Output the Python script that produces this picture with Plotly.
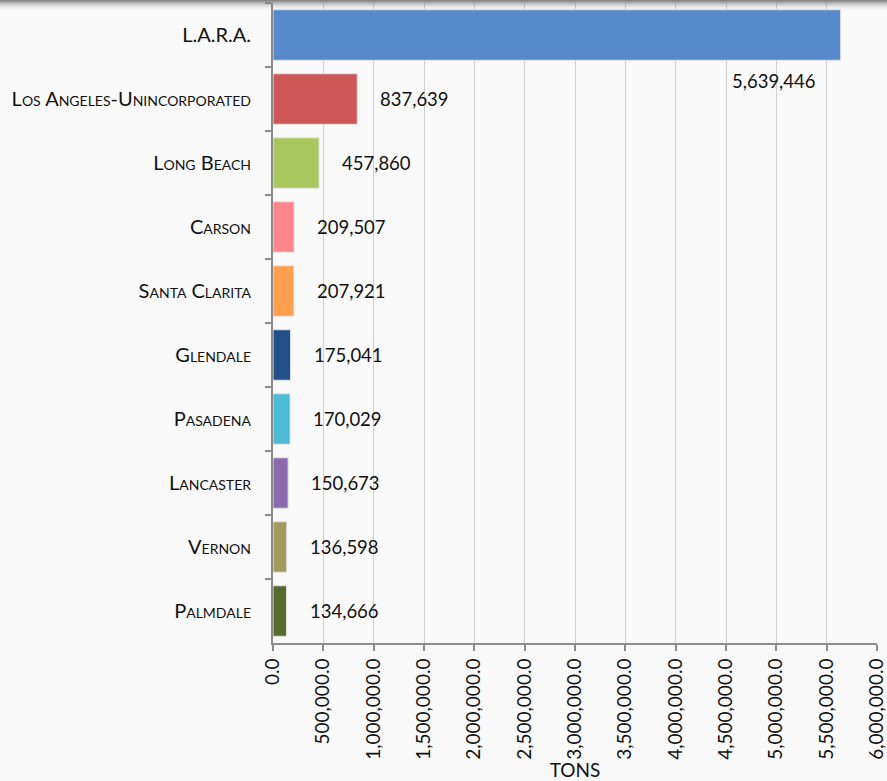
import plotly.graph_objects as go

categories = ["L.A.R.A.", "Los Angeles-Unincorporated", "Long Beach", "Carson", "Santa Clarita",
              "Glendale", "Pasadena", "Lancaster", "Vernon", "Palmdale"]
tons = [5639446, 837639, 457860, 209507, 207921, 175041, 170029, 150673, 136598, 134666]
colors = ["#5689cb", "#cd5757", "#a8c75e", "#ff868c", "#ffa04f", "#234f88", "#4dbbd6",
          "#8a6bb0", "#a29a5e", "#576b2e"]
x_ticks = list(range(0, 6000001, 500000))

W, H = 887, 781
ML, MR, MT, MB = 273, 10, 3, 138

fig = go.Figure()
fig.add_trace(go.Bar(
    y=categories, x=tons, orientation="h",
    marker=dict(color=colors, line=dict(color="#e6e6e6", width=1)),
    width=0.79, hoverinfo="x+y",
))

annotations = []
for i, (c, v) in enumerate(zip(categories, tons)):
    label = f"{v:,}"
    if i == 0:
        annotations.append(dict(x=v, y=c, text=label, showarrow=False, xanchor="right",
                                xshift=-23, yshift=-46,
                                font=dict(family="Lato, sans-serif", size=18.5, color="#111")))
    else:
        annotations.append(dict(x=v, y=c, text=label, showarrow=False, xanchor="left",
                                xshift=21,
                                font=dict(family="Lato, sans-serif", size=18.5, color="#111")))

shapes = []
plot_h = H - MT - MB
top = 1 + MT / plot_h
shade = [("#808080", 0.95), ("#808080", 0.8), ("#808080", 0.65), ("#808080", 0.5),
         ("#808080", 0.38), ("#808080", 0.27), ("#808080", 0.18), ("#808080", 0.11),
         ("#808080", 0.06), ("#808080", 0.03)]
for k, (col, op) in enumerate(shade):
    shapes.append(dict(type="rect", xref="paper", yref="paper", x0=-1, x1=2,
                       ysizemode="pixel", yanchor=top, y0=-k, y1=-k - 1,
                       fillcolor=col, opacity=op, line=dict(width=0), layer="above"))

fig.update_layout(
    width=W, height=H,
    margin=dict(l=ML, r=MR, t=MT, b=MB, autoexpand=False),
    paper_bgcolor="#f9f9f9", plot_bgcolor="#f9f9f9",
    showlegend=False,
    annotations=annotations,
    shapes=shapes,
    bargap=0.2,
    xaxis=dict(
        range=[0, 6000000], tickvals=x_ticks, tickformat=",.1f", tickangle=-90,
        showgrid=True, gridcolor="#d0d0d0", gridwidth=1,
        showline=True, linecolor="#8c8c8c", linewidth=2,
        ticks="outside", ticklen=6, tickcolor="#8c8c8c", tickwidth=2,
        tickfont=dict(family="Lato, sans-serif", size=19, color="#111"),
        ticklabeloverflow="allow",
        title=dict(text="TONS", standoff=0,
                   font=dict(family="Lato, sans-serif", size=19, color="#111")),
        zeroline=False, fixedrange=True, automargin=False,
    ),
    yaxis=dict(
        range=[9.5, -0.5], type="category",
        showline=True, linecolor="#8c8c8c", linewidth=2,
        ticks="outside", tickson="boundaries", ticklen=6, tickcolor="#8c8c8c", tickwidth=2,
        tickfont=dict(family="Lato, sans-serif", size=20, color="#111", variant="small-caps"),
        ticklabelstandoff=16,
        showgrid=False, fixedrange=True, automargin=False,
    ),
)

fig.write_html(
    "out.html",
    config={"displayModeBar": False},
    post_script="document.body.style.margin='0';document.body.style.background='#f9f9f9';"
                "document.documentElement.style.overflow='hidden';",
)
